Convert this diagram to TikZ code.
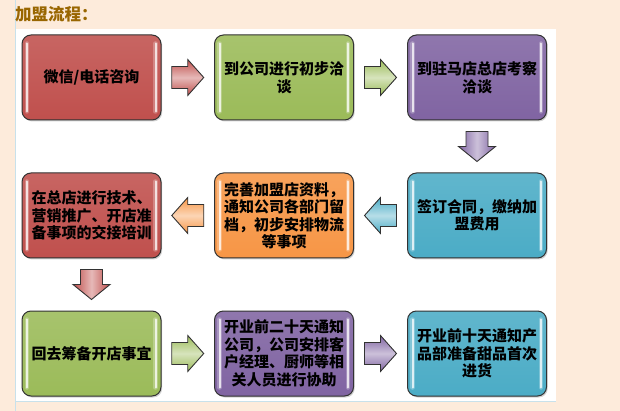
\documentclass[tikz,border=0pt]{standalone}
\usepackage{fontspec}
\newfontfamily\cjk{Noto Sans CJK SC}
\usetikzlibrary{calc,shadows}
\definecolor{bgpeach}{RGB}{253,235,219}
\definecolor{panelline}{RGB}{200,225,235}
\definecolor{titlecol}{RGB}{153,102,0}
\definecolor{cred}{RGB}{192,80,77}
\definecolor{cgreen}{RGB}{155,187,89}
\definecolor{cpurple}{RGB}{128,100,162}
\definecolor{corange}{RGB}{247,150,70}
\definecolor{cblue}{RGB}{75,172,198}
\definecolor{edge}{RGB}{50,50,50}
\tikzset{
  stepbox/.style={draw=edge, line width=1pt, rounded corners=9pt,
    minimum width=139pt, minimum height=85pt, inner sep=0pt, align=center,
    font=\cjk\bfseries\fontsize{15}{17.5}\selectfont, text=black,
    top color=#1!88!white, bottom color=#1,
    drop shadow={opacity=0.35, shadow xshift=1.2pt, shadow yshift=-1.5pt}},
  harrowfill/.style={draw=edge, line width=0.9pt, line join=miter,
    top color=#1, bottom color=#1, middle color=#1!40!white},
  varrowfill/.style={draw=edge, line width=0.9pt, line join=miter,
    left color=#1, right color=#1, middle color=#1!40!white},
  hl/.style={white, line width=2pt, opacity=0.75, line cap=round},
  hlglow/.style={white, line width=4.5pt, opacity=0.25, line cap=round}
}
% horizontal block arrow: #1 centre coordinate, #2 = 1 (right) or -1 (left), #3 colour
\newcommand\blockharrow[3]{%
  \begin{scope}[shift={(#1)}, xscale=#2]
    \draw[harrowfill=#3] (-16,-11) -- (0,-11) -- (0,-18) -- (16,0) -- (0,18) -- (0,11) -- (-16,11) -- cycle;
  \end{scope}}
% downward block arrow: #1 centre coordinate, #2 colour
\newcommand\blockdarrow[2]{%
  \begin{scope}[shift={(#1)}]
    \draw[varrowfill=#2] (-11,-15) -- (-11,0) -- (-18.5,0) -- (0,15) -- (18.5,0) -- (11,0) -- (11,-15) -- cycle;
  \end{scope}}
\begin{document}
\begin{tikzpicture}[x=1pt,y=-1pt]
  \useasboundingbox (0,0) rectangle (620,411);
  \fill[bgpeach] (0,0) rectangle (620,411);
  \fill[white] (16,29) rectangle (556,401);
  \draw[panelline, line width=1pt] (15.5,0) -- (15.5,411);
  \draw[panelline, line width=1pt] (15.5,401) -- (556,401);
  \node[anchor=west, inner sep=0pt, text=titlecol, font=\cjk\bfseries\fontsize{16.5}{18}\selectfont] (title) at (15,14) {加盟流程：};

  % row 1
  \node[stepbox=cred]    (b1) at (91.5,77.5) {微信/电话咨询};
  \node[stepbox=cgreen]  (b2) at (284,77.5)  {到公司进行初步洽\\谈};
  \node[stepbox=cpurple] (b3) at (477,77.5)  {到驻马店总店考察\\洽谈};
  % row 2
  \node[stepbox=cred]    (b4) at (91.5,215.5) {在总店进行技术、\\营销推广、开店准\\备事项的交接培训};
  \node[stepbox=corange] (b5) at (284,215.5)  {完善加盟店资料，\\通知公司各部门留\\档，初步安排物流\\等事项};
  \node[stepbox=cblue]   (b6) at (477,215.5)  {签订合同，缴纳加\\盟费用};
  % row 3
  \node[stepbox=cgreen]  (b7) at (91.5,353.5) {回去筹备开店事宜};
  \node[stepbox=cpurple] (b8) at (284,353.5)  {开业前二十天通知\\公司，公司安排客\\户经理、厨师等相\\关人员进行协助};
  \node[stepbox=cblue]   (b9) at (477,353.5)  {开业前十天通知产\\品部准备甜品首次\\进货};

  \foreach \n in {b1,b2,b3,b4,b5,b6,b7,b8,b9}{
    \draw[hlglow] ($(\n.north west)+(5.5,9)$) -- ($(\n.south west)+(5.5,-9)$);
    \draw[hl]     ($(\n.north west)+(5.5,9)$) -- ($(\n.south west)+(5.5,-9)$);
    \draw[hlglow] ($(\n.north east)+(-6,9)$) -- ($(\n.south east)+(-6,-9)$);
    \draw[hl]     ($(\n.north east)+(-6,9)$) -- ($(\n.south east)+(-6,-9)$);
  }

  % arrow centres between the boxes
  \coordinate (a1) at ($(b1.east)!0.5!(b2.west)$);
  \coordinate (a2) at ($(b2.east)!0.5!(b3.west)$);
  \coordinate (a3) at ($(b3.south)!0.5!(b6.north)$);
  \coordinate (a4) at ($(b6.west)!0.5!(b5.east)$);
  \coordinate (a5) at ($(b5.west)!0.5!(b4.east)$);
  \coordinate (a6) at ($(b4.south)!0.5!(b7.north)$);
  \coordinate (a7) at ($(b7.east)!0.5!(b8.west)$);
  \coordinate (a8) at ($(b8.east)!0.5!(b9.west)$);

  \blockharrow{a1}{1}{cred}
  \blockharrow{a2}{1}{cgreen}
  \blockdarrow{a3}{cpurple}
  \blockharrow{a4}{-1}{cblue}
  \blockharrow{a5}{-1}{corange}
  \blockdarrow{a6}{cred}
  \blockharrow{a7}{1}{cgreen}
  \blockharrow{a8}{1}{cpurple}
\end{tikzpicture}
\end{document}
